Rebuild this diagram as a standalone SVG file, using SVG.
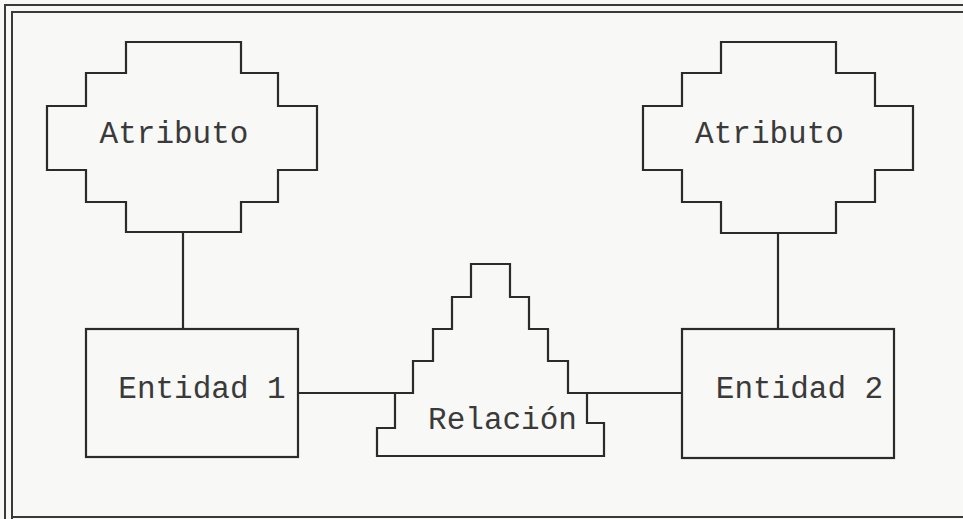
<svg xmlns="http://www.w3.org/2000/svg" width="963" height="519" viewBox="0 0 963 519">
<style>
.bg{fill:#f8f8f6}
.shape{fill:none;stroke:#2b2b2b;stroke-width:2.2;stroke-linejoin:miter}
.frame{fill:none;stroke:#3a3a3a;stroke-width:2}
.conn{stroke:#2b2b2b;stroke-width:2.2;fill:none}
.lbl{font-family:"Liberation Mono","Courier New",monospace;font-size:31px;fill:#3a3a3a;text-anchor:middle}
</style>
<rect class="bg" x="0" y="0" width="963" height="519"/>
<g id="frame">
<path class="frame" d="M5,519 V5 H963"/>
<path class="frame" d="M12,519 V12 H963"/>
<path class="frame" d="M12,517 H963"/>
</g>
<g id="connectors">
<line class="conn" x1="183" y1="232" x2="183" y2="329"/>
<line class="conn" x1="778" y1="233" x2="778" y2="329"/>
<line class="conn" x1="298" y1="393" x2="395" y2="393"/>
<line class="conn" x1="587" y1="393" x2="682" y2="393"/>
</g>
<g id="atributo1">
<path class="shape" d="M126,42 H241 V73 H278 V106 H317 V170 H278 V202 H241 V232 H126 V202 H86 V170 H47 V106 H86 V73 H126 Z"/>
<text class="lbl" x="174" y="143">Atributo</text>
</g>
<g id="atributo2">
<path class="shape" d="M721,42 H836 V73 H875 V106 H913 V170 H875 V202 H836 V233 H721 V202 H682 V170 H643 V106 H682 V73 H721 Z"/>
<text class="lbl" x="769.5" y="143">Atributo</text>
</g>
<g id="entidad1">
<rect class="shape" x="86" y="329" width="212" height="128"/>
<text class="lbl" x="202" y="398">Entidad 1</text>
</g>
<g id="entidad2">
<rect class="shape" x="682" y="329" width="212" height="129"/>
<text class="lbl" x="799.5" y="398">Entidad 2</text>
</g>
<g id="relacion">
<path class="shape" d="M471,264 H510 V297 H529 V329 H548 V361 H568 V393 H587 V423 H604 V456 H377 V428 H395 V393 H413 V361 H433 V329 H452 V297 H471 Z"/>
<text class="lbl" x="502.5" y="429">Relación</text>
</g>
</svg>
